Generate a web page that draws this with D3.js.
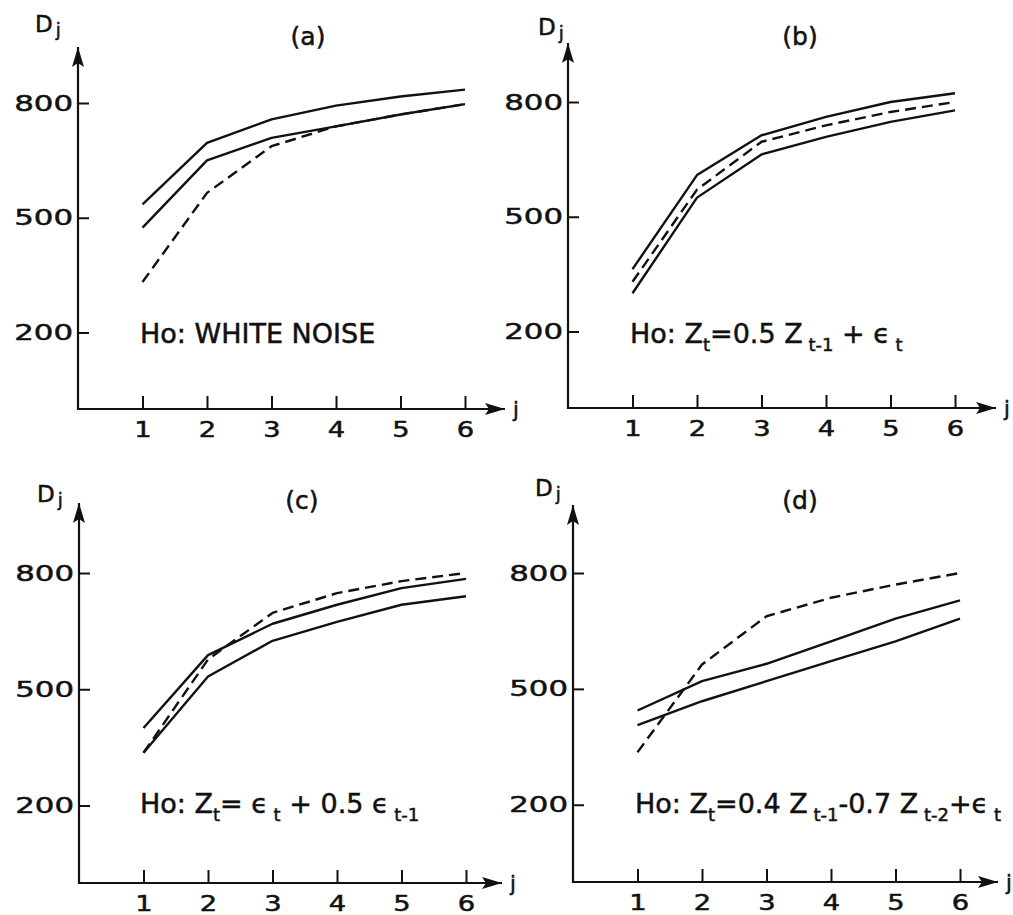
<!DOCTYPE html>
<html>
<head>
<meta charset="utf-8">
<script src="https://cdn.jsdelivr.net/npm/d3@7"></script>
<style>
  body { margin: 0; background: #fff; }
  svg text { font-family: "DejaVu Sans", sans-serif; fill: #111; stroke: #111; stroke-width: 0.5px; }
</style>
</head>
<body>
<div id="chart"></div>
<script>
// lag index j
var jVals = [1, 2, 3, 4, 5, 6];
var yTicks = [200, 500, 800];
var panelNames = ["(a)", "(b)", "(c)", "(d)"];

// D_j curves: two solid bounds and the dashed curve
var aUpper  = [535, 696, 757, 793, 817, 835];
var aLower  = [474, 650, 709, 739, 770, 797];
var aDashed = [332, 565, 687, 739, 770, 797];

var bUpper  = [363, 609, 713, 761, 800, 823];
var bLower  = [300, 550, 663, 709, 748, 778];
var bDashed = [330, 571, 696, 739, 774, 800];

var cUpper  = [400, 588, 669, 718, 761, 785];
var cLower  = [336, 533, 625, 674, 718, 740];
var cDashed = [336, 577, 697, 748, 779, 800];

var dUpper  = [444, 520, 565, 623, 682, 729];
var dLower  = [406, 468, 520, 572, 623, 682];
var dDashed = [336, 563, 688, 736, 770, 800];

// null hypothesis captions, [text, isSubscript]
var notes = [
  [["Ho: WHITE NOISE", 0]],
  [["Ho: Z", 0], ["t", 1], ["=0.5 Z", 0], [" t-1", 1], [" + ϵ", 0], [" t", 1]],
  [["Ho: Z", 0], ["t", 1], ["= ϵ", 0], [" t", 1], [" + 0.5 ϵ", 0], [" t-1", 1]],
  [["Ho: Z", 0], ["t", 1], ["=0.4 Z", 0], [" t-1", 1], ["-0.7 Z", 0], [" t-2", 1], ["+ϵ", 0], [" t", 1]]
];

var series = [
  [aUpper, aLower, aDashed],
  [bUpper, bLower, bDashed],
  [cUpper, cLower, cDashed],
  [dUpper, dLower, dDashed]
];

// where each small chart sits on the page
var layout = [
  {ox: 78,  oy: 409, h: 306, top: 362, right: 427, title: [308, 45],  lab: [35, 32],  note: [140, 343]},
  {ox: 568, oy: 408, h: 306, top: 365, right: 428, title: [800, 45],  lab: [538, 35], note: [630, 343]},
  {ox: 79,  oy: 883, h: 310, top: 380, right: 423, title: [302, 509], lab: [37, 502], note: [140, 813]},
  {ox: 573, oy: 882, h: 309, top: 377, right: 425, title: [800, 509], lab: [535, 496], note: [635, 813]}
];

var svg = d3.select("#chart")
  .append("svg")
    .attr("width", 1013)
    .attr("height", 915);

var defs = svg.append("defs");
defs.append("marker")
    .attr("id", "arrow")
    .attr("viewBox", "0 0 20 12")
    .attr("refX", 20)
    .attr("refY", 6)
    .attr("markerWidth", 20)
    .attr("markerHeight", 12)
    .attr("markerUnits", "userSpaceOnUse")
    .attr("orient", "auto")
  .append("path")
    .attr("d", "M0,0 L20,6 L0,12 L4,6 Z")
    .style("fill", "#111");

layout.forEach(function (p, i) {
  var width = 387;

  var x = d3.scaleLinear()
    .domain([0, 6])
    .range([0, width]);

  var y = d3.scaleLinear()
    .domain([0, 800])
    .range([0, -p.h]);

  var g = svg.append("g")
    .attr("transform", "translate(" + p.ox + "," + p.oy + ")");

  // x axis: ticks point up, labels below
  var xa = g.append("g")
    .call(d3.axisBottom(x).tickValues(jVals).tickSize(-13).tickPadding(13).tickFormat(d3.format("d")));
  xa.select(".domain").remove();
  xa.selectAll("line").style("stroke", "#111").style("stroke-width", 2);
  xa.selectAll("text")
    .style("font-size", "21px")
    .style("font-family", "DejaVu Sans")
    .attr("transform", "scale(1.3,1)");

  // y axis: ticks point inward, labels left
  var ya = g.append("g")
    .call(d3.axisLeft(y).tickValues(yTicks).tickSize(-11).tickPadding(5));
  ya.select(".domain").remove();
  ya.selectAll("line").style("stroke", "#111").style("stroke-width", 2);
  ya.selectAll("text")
    .style("font-size", "22px")
    .style("font-family", "DejaVu Sans")
    .attr("transform", "scale(1.4,1)")
    .attr("x", -5 / 1.4);

  // axis lines with arrow heads
  g.append("line")
    .attr("x1", -1).attr("y1", 0).attr("x2", p.right).attr("y2", 0)
    .style("stroke", "#111").style("stroke-width", 2.2)
    .attr("marker-end", "url(#arrow)");
  g.append("line")
    .attr("x1", 0).attr("y1", 1).attr("x2", 0).attr("y2", -p.top)
    .style("stroke", "#111").style("stroke-width", 2.2)
    .attr("marker-end", "url(#arrow)");

  g.append("text")
    .attr("x", p.right + 8)
    .attr("y", 8)
    .style("font-size", "21px")
    .text("j");

  var line = d3.line()
    .x(function (d, k) { return x(jVals[k]); })
    .y(function (d) { return y(d); });

  series[i].forEach(function (s, k) {
    g.append("path")
      .datum(s)
      .attr("d", line)
      .style("fill", "none")
      .style("stroke", "#111")
      .style("stroke-width", 2.4)
      .style("stroke-linejoin", "round")
      .style("stroke-dasharray", k == 2 ? "11,6" : null);
  });

  // panel letter
  svg.append("text")
    .attr("x", p.title[0])
    .attr("y", p.title[1])
    .attr("text-anchor", "middle")
    .style("font-size", "25px")
    .text(panelNames[i]);

  // D_j label
  var lab = svg.append("text")
    .attr("x", p.lab[0])
    .attr("y", p.lab[1])
    .style("font-size", "23px");
  lab.append("tspan").text("D");
  lab.append("tspan").attr("dx", 3).attr("dy", 4).style("font-size", "18px").text("j");

  // hypothesis caption
  var note = svg.append("text")
    .attr("x", p.note[0])
    .attr("y", p.note[1])
    .style("font-size", "27px");
  var down = false;
  notes[i].forEach(function (seg) {
    var t = note.append("tspan").text(seg[0]);
    if (seg[1]) {
      t.style("font-size", "18px").attr("dy", down ? 0 : 8);
      down = true;
    } else {
      t.attr("dy", down ? -8 : 0);
      down = false;
    }
  });
});
</script>
</body>
</html>
